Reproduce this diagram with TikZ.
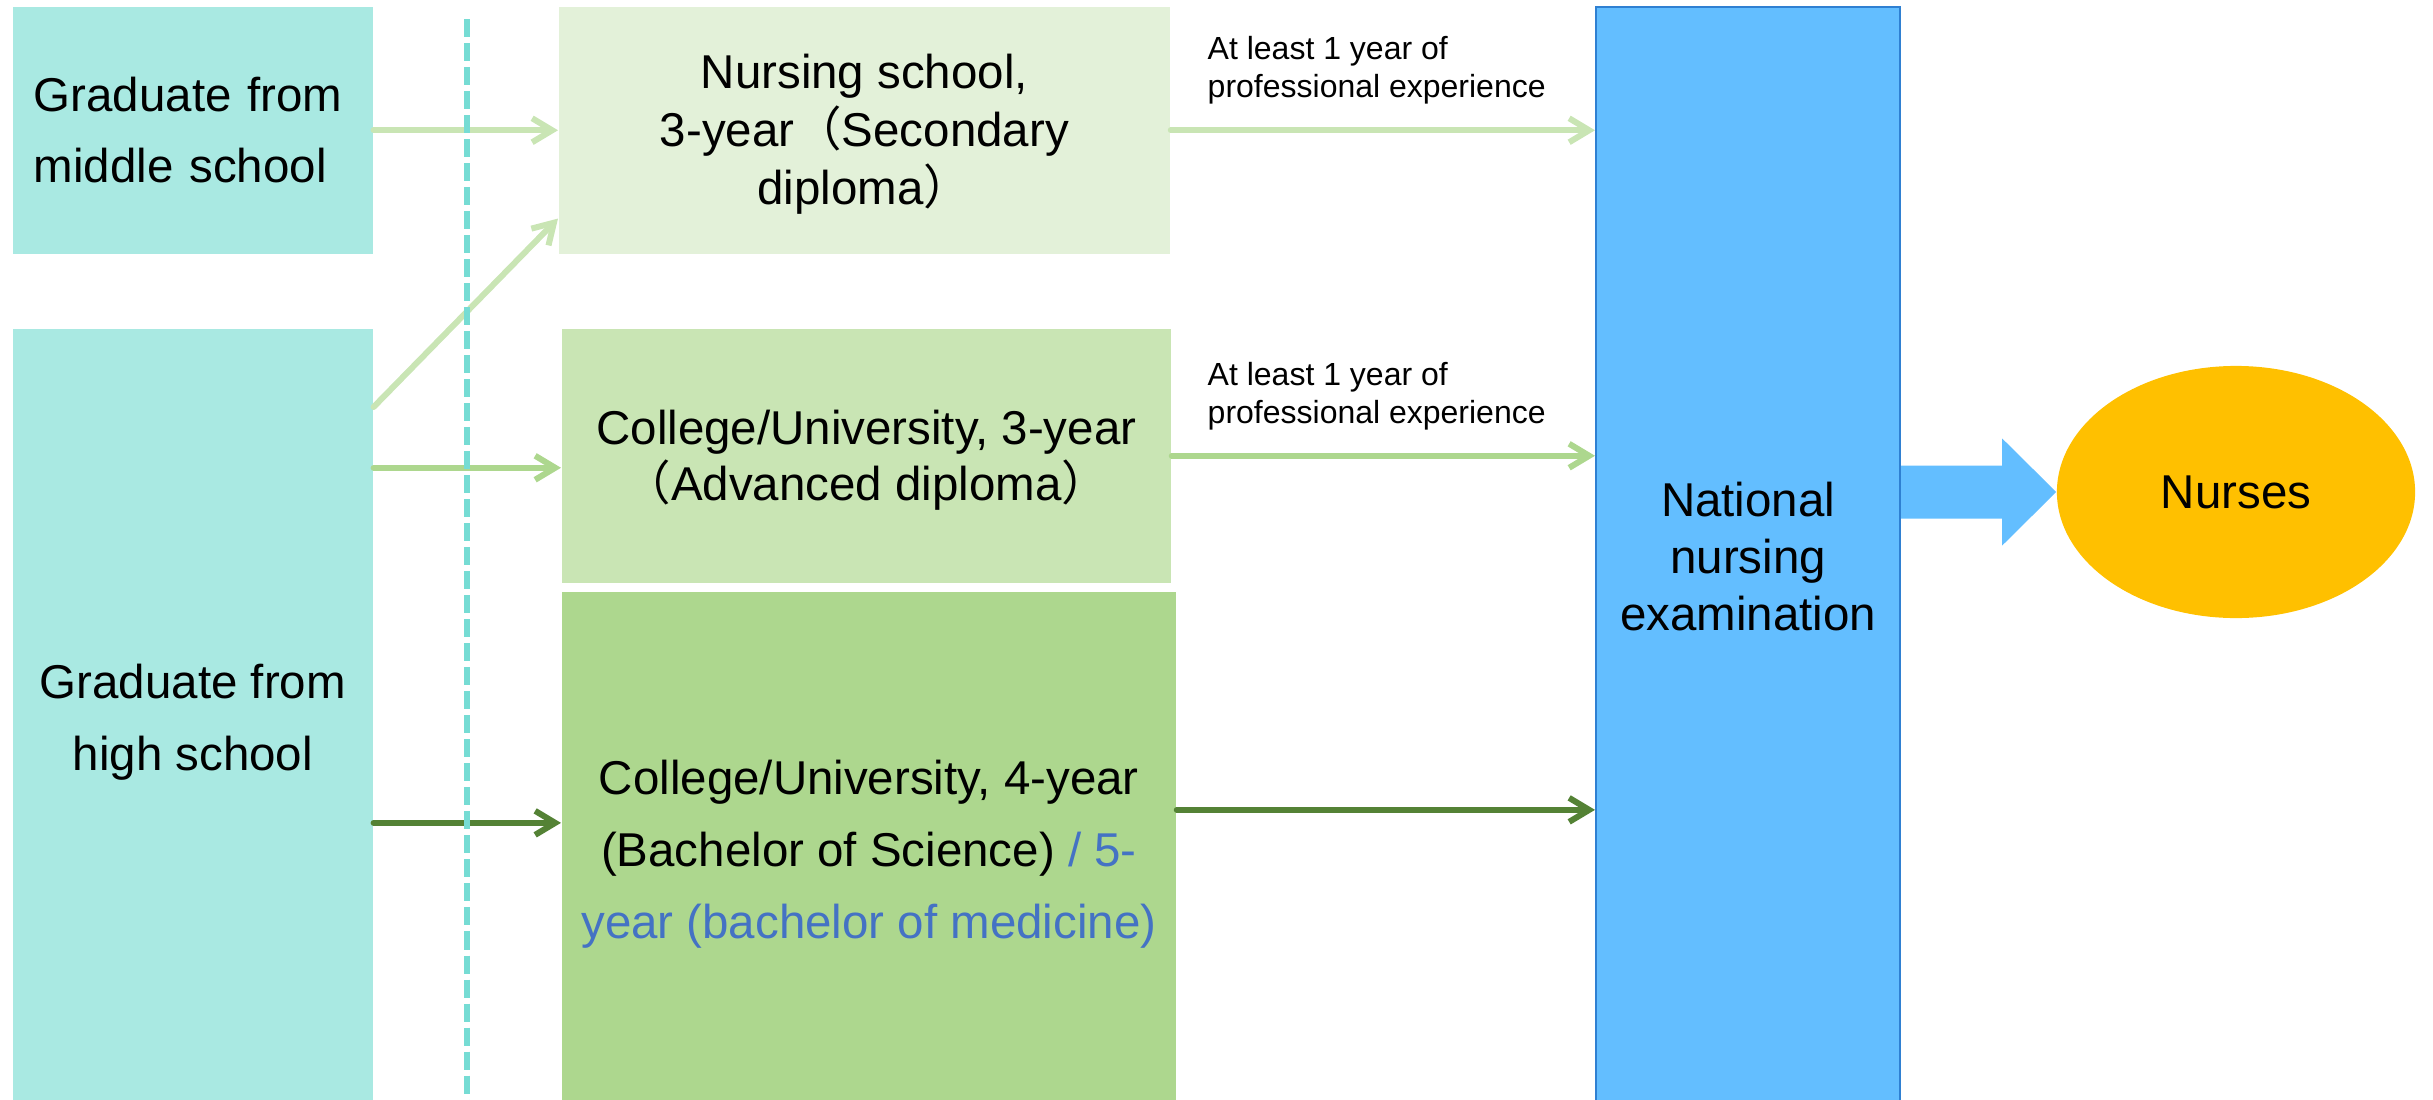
\documentclass[tikz,border=0pt]{standalone}
\usepackage{fontspec}
\setmainfont{Liberation Sans}
\newfontfamily\cjk{Noto Sans CJK SC}
\usepackage{xcolor}
\usetikzlibrary{arrows.meta, shapes.geometric, calc, positioning}

\definecolor{schoolteal}{RGB}{169,233,226}
\definecolor{dividerteal}{RGB}{118,220,212}
\definecolor{secgreen}{RGB}{227,241,217}
\definecolor{advgreen}{RGB}{201,229,180}
\definecolor{bachgreen}{RGB}{173,215,142}
\definecolor{darkgreen}{RGB}{84,130,53}
\definecolor{exambl}{RGB}{99,190,255}
\definecolor{examedge}{RGB}{47,128,210}
\definecolor{nurseamber}{RGB}{255,192,0}
\definecolor{medblue}{RGB}{68,114,196}

\newcommand{\stagefont}[1]{\fontsize{13.5}{#1}\selectfont}

\tikzset{
  stage/.style={rectangle, inner sep=0pt, anchor=north west, align=center},
  flow/.style={line width=0.06cm, line cap=round, -{Straight Barb[length=0.2cm,width=0.24cm]}},
  note/.style={inner sep=0pt, anchor=north west, align=left, font=\fontsize{9.1}{10.8}\selectfont},
}

\begin{document}
\begin{tikzpicture}[x=0.01cm, y=-0.01cm]
  \useasboundingbox (0,0) rectangle (2433,1100);

  % entry levels
  \node[stage, fill=schoolteal, minimum width=3.6cm, minimum height=2.47cm,
    text width=3.18cm, align=left, font=\stagefont{20.2}] (mid) at (12,6)
    {Graduate from\\middle school};
  \node[stage, fill=schoolteal, minimum width=3.6cm, minimum height=7.86cm,
    font=\stagefont{20.5}] (high) at (12,328) {Graduate from\\high school};

  % programmes
  \node[stage, fill=secgreen, minimum width=6.11cm, minimum height=2.47cm,
    font=\stagefont{16.4}] (nschool) at (558,6)
    {\rule{0pt}{0.42cm}Nursing school,\\3-year{\cjk （}Secondary\\diploma{\cjk ）}};
  \node[stage, fill=advgreen, minimum width=6.09cm, minimum height=2.54cm,
    font=\stagefont{16}] (adv) at (561,328)
    {\rule{0pt}{0.43cm}College/University, 3-year\\{\cjk （}Advanced diploma{\cjk ）}};
  \node[stage, fill=bachgreen, minimum width=6.14cm, minimum height=5.25cm,
    font=\stagefont{20.5}] (bach) at (561,591)
    {College/University, 4-year\\(Bachelor of Science) \textcolor{medblue}{/ 5-}\\
     \textcolor{medblue}{year (bachelor of medicine)}};

  % exam and result
  \node[stage, fill=exambl, draw=examedge, line width=0.02cm, minimum width=3.04cm,
    minimum height=10.98cm, font=\stagefont{16.2}] (exam) at (1595,6)
    {National\\nursing\\examination};
  \node[ellipse, fill=nurseamber, inner sep=0pt, minimum width=3.58cm,
    minimum height=2.52cm, font=\stagefont{16}] (rn) at (2236,492) {Nurses};

  \node[note] (exp1) at (1207,36) {At least 1 year of\\professional experience};
  \node[note] (exp2) at (1207,362) {At least 1 year of\\professional experience};

  % arrows into the programmes
  \coordinate (advin) at ($(adv.west)+(0,12)$);
  \coordinate (bachin) at ($(bach.west)+(0,-31.5)$);
  \coordinate (bachout) at ($(bach.east)+(0,-44.5)$);
  \draw[flow, advgreen] (mid.east) -- (nschool.west);
  \draw[flow, advgreen] ($(high.north east)+(0,79)$) -- ($(nschool.south west)+(0,-36)$);
  \draw[flow, bachgreen] (high.east |- advin) -- (advin);
  \draw[flow, darkgreen] (high.east |- bachin) -- (bachin);

  % arrows to the exam
  \draw[flow, advgreen] (nschool.east) -- (exam.west |- nschool.east);
  \draw[flow, bachgreen] (adv.east) -- (exam.west |- adv.east);
  \draw[flow, darkgreen] (bachout) -- (exam.west |- bachout);

  % block arrow
  \coordinate (bs) at (exam.east |- rn.west);
  \fill[exambl] ($(bs)+(0,-26.5)$) -- ($(rn.west)+(-54,-26.5)$) -- ($(rn.west)+(-54,-53.5)$)
    -- (rn.west) -- ($(rn.west)+(-54,53.5)$) -- ($(rn.west)+(-54,26.5)$)
    -- ($(bs)+(0,26.5)$) -- cycle;

  % divider
  \draw[dividerteal, line width=0.06cm, dash pattern=on 0.18cm off 0.06cm] (467,19) -- (467,1100);
\end{tikzpicture}
\end{document}
